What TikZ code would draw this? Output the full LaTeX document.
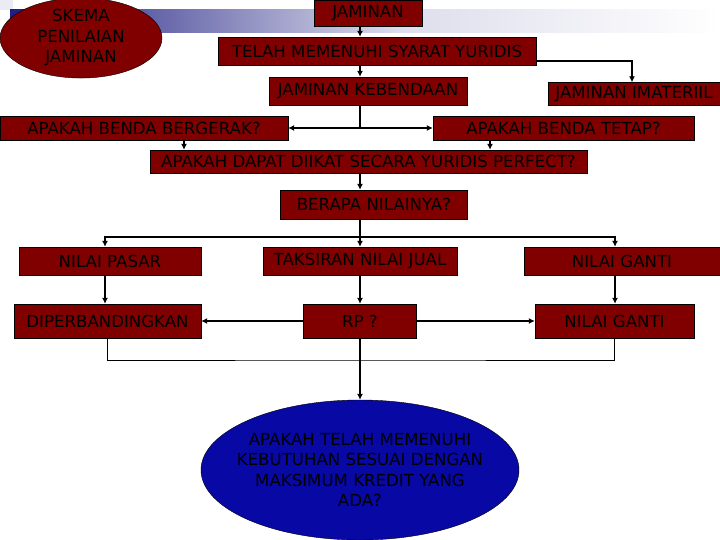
\documentclass[tikz,border=0pt]{standalone}
\usepackage{fontspec}
\setmainfont{DejaVu Sans}
\usepackage{tikz}
\usetikzlibrary{arrows.meta,shapes.geometric}
\tikzset{>={Latex[length=6pt,width=6pt]}}
\usepackage{xcolor}
\definecolor{mydarkred}{RGB}{128,0,0}
\definecolor{mynavy}{RGB}{30,30,130}
\definecolor{myblue}{RGB}{8,8,165}
\colorlet{mypale}{mynavy!15}
\tikzstyle{box}=[draw=black,fill=mydarkred,text=black,inner sep=0,font=\fontsize{16.6}{20.5}\selectfont]
\tikzstyle{bubble}=[box,ellipse,align=center]
\tikzstyle{connect}=[line width=1.3pt,->]
\tikzstyle{link}=[line width=0.8pt]

\begin{document}
\begin{tikzpicture}[x=1pt,y=-1pt]
  \useasboundingbox (0,0) rectangle (720,540);
  % BACKGROUND BAR
  \fill[mypale!60] (0,0) rectangle (13,10);
  \shade[left color=mynavy,right color=mypale] (10,10) rectangle (400,33);
  \shade[left color=mypale,right color=white] (400,10) rectangle (720,33);

  % AXES FOR VERTICAL EDGES
  \coordinate (ax)  at (360,0);
  \coordinate (axl) at (105,0);
  \coordinate (axr) at (615,0);
  \coordinate (axb) at (184,0);
  \coordinate (axt) at (490,0);
  \coordinate (axi) at (632,0);

  % DRAW NODES
  \node[bubble,minimum width=162,minimum height=77] (skema) at (81,38) {SKEMA\\PENILAIAN\\JAMINAN};
  \node[box,minimum width=108,minimum height=26] (jam) at (368,13) {JAMINAN};
  \node[box,minimum width=318,minimum height=28] (telah) at (377,51) {TELAH MEMENUHI SYARAT YURIDIS};
  \node[box,minimum width=198,minimum height=28] (kebendaan) at (368,91) {JAMINAN KEBENDAAN};
  \node[box,minimum width=172,minimum height=23] (imateriil) at (634,94) {JAMINAN IMATERIIL};
  \node[box,minimum width=288,minimum height=24] (bergerak) at (144,128) {APAKAH BENDA BERGERAK?};
  \node[box,minimum width=261,minimum height=24] (tetap) at (563.5,128) {APAKAH BENDA TETAP?};
  \node[box,minimum width=437,minimum height=23] (diikat) at (368.5,161.5) {APAKAH DAPAT DIIKAT SECARA YURIDIS PERFECT?};
  \node[box,minimum width=187,minimum height=29] (berapa) at (374,204.5) {BERAPA NILAINYA?};
  \node[box,minimum width=182,minimum height=28] (pasar) at (110,261) {NILAI PASAR};
  \node[box,minimum width=194,minimum height=28] (taksiran) at (360,261) {TAKSIRAN NILAI JUAL};
  \node[box,minimum width=196,minimum height=28] (ganti1) at (622,261) {NILAI GANTI};
  \node[box,minimum width=187,minimum height=34] (banding) at (107.5,321) {DIPERBANDINGKAN};
  \node[box,minimum width=113,minimum height=34] (rp) at (360,321) {RP ?};
  \node[box,minimum width=159,minimum height=34] (ganti2) at (614.5,321) {NILAI GANTI};
  \node[bubble,fill=myblue,inner xsep=-12pt,minimum width=318,minimum height=140] (tanya) at (360,470)
    {APAKAH TELAH MEMENUHI\\KEBUTUHAN SESUAI DENGAN\\MAKSIMUM KREDIT YANG\\ADA?};

  \coordinate (split) at (360,128);
  \coordinate (fork)  at (360,237);
  \coordinate (join)  at (360,360);

  % DRAW EDGES
  \draw[connect] (ax |- jam.south) -- (ax |- telah.north);
  \draw[connect] (ax |- telah.south) -- (ax |- kebendaan.north);
  \draw[connect] ([yshift=-10pt]telah.east) -| (axi |- imateriil.north);
  \draw[line width=1.3pt] (ax |- kebendaan.south) -- (split);
  \draw[connect] (split) -- (bergerak.east);
  \draw[connect] (split) -- (tetap.west);
  \draw[connect] (axb |- bergerak.south) -- (axb |- diikat.north);
  \draw[connect] (axt |- tetap.south) -- (axt |- diikat.north);
  \draw[connect] (ax |- diikat.south) -- (ax |- berapa.north);
  \draw[line width=1.3pt] (ax |- berapa.south) -- (fork);
  \foreach \a/\n/\m in {axl/pasar/banding,ax/taksiran/rp,axr/ganti1/ganti2}{
      \draw[connect] (fork) -| (\a |- \n.north);
      \draw[connect] (\a |- \n.south) -- (\a |- \m.north);
  }
  \draw[connect] (rp.west) -- (banding.east);
  \draw[connect] (rp.east) -- (ganti2.west);
  \draw[link] (banding.south) |- (join) -| (ganti2.south);
  \draw[connect] (rp.south) -- (tanya.north);
\end{tikzpicture}
\end{document}
